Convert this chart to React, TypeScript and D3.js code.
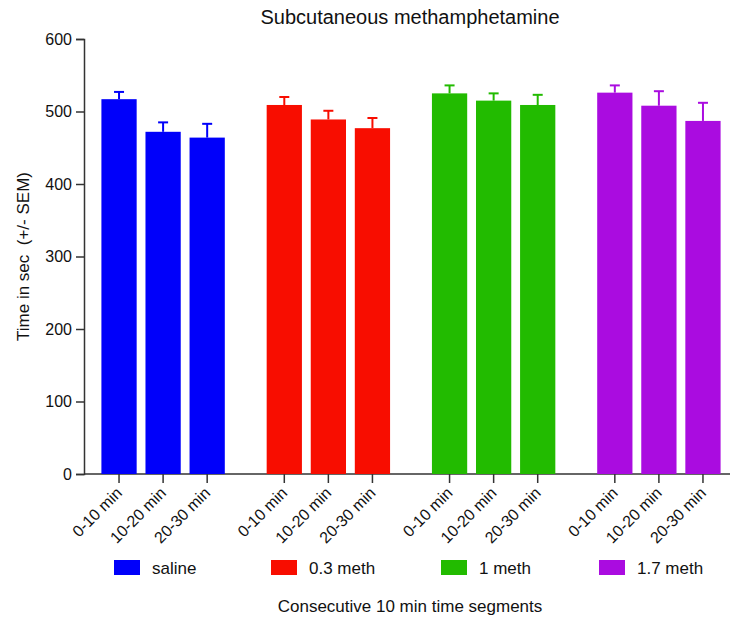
import React, { useRef, useEffect } from "react";
import * as d3 from "d3";

const groups = ["saline", "0.3 meth", "1 meth", "1.7 meth"];
const segments = ["0-10 min", "10-20 min", "20-30 min"];
const colors = ["#0000fa", "#f80d00", "#22bb00", "#aa0ce0"];

const means = [
    [517, 472, 464],
    [509, 489, 477],
    [525, 515, 509],
    [526, 508, 487],
];
const sems = [
    [10, 13, 19],
    [11, 12, 14],
    [11, 10, 14],
    [10, 20, 25],
];
const yTicks = [0, 100, 200, 300, 400, 500, 600];

// legend item left edges (layout)
const legendX = [114, 271, 441, 599];

const font = "'Liberation Sans', Arial, Helvetica, sans-serif";

const App = () => {
    const svgRef = useRef<SVGSVGElement>(null);

    useEffect(() => {
        if (!svgRef.current) return;
        const width = 730;
        const height = 620;
        const margin = { top: 39, left: 84, bottom: 146 };
        const y0 = height - margin.bottom;

        const svg = d3.select(svgRef.current);
        svg.selectAll("*").remove();
        svg.attr("width", width).attr("height", height);

        const yScale = d3.scaleLinear().domain([0, 600]).range([y0, margin.top]);

        const xGroup = d3
            .scaleBand()
            .domain(groups)
            .range([97, 725])
            .paddingInner(0.2)
            .paddingOuter(0);

        const xInner = d3
            .scaleBand()
            .domain(segments)
            .range([0, xGroup.bandwidth()])
            .paddingInner(0.2)
            .paddingOuter(0.1);

        // 標題
        svg.append("text")
            .attr("x", 410)
            .attr("y", 24)
            .attr("text-anchor", "middle")
            .style("font-family", font)
            .style("font-size", "20px")
            .style("fill", "#111")
            .text("Subcutaneous methamphetamine");

        // y axis
        const yAxis = svg.append("g")
            .attr("transform", `translate(${margin.left},0)`)
            .call(d3.axisLeft(yScale).tickValues(yTicks).tickSize(8).tickPadding(4));
        yAxis.select(".domain").attr("stroke", "#333").attr("stroke-width", 1.5);
        yAxis.selectAll(".tick line").attr("stroke", "#333").attr("stroke-width", 1.5);
        yAxis.selectAll("text")
            .style("font-family", font)
            .style("font-size", "16px")
            .style("fill", "#111");

        svg.append("text")
            .attr("transform", `translate(29,${(margin.top + y0) / 2}) rotate(-90)`)
            .attr("text-anchor", "middle")
            .style("font-family", font)
            .style("font-size", "17px")
            .style("white-space", "pre")
            .style("fill", "#111")
            .text("Time in sec  (+/- SEM)");

        // x axis line
        svg.append("line")
            .attr("x1", margin.left)
            .attr("x2", width)
            .attr("y1", y0)
            .attr("y2", y0)
            .attr("stroke", "#333")
            .attr("stroke-width", 1.5);

        groups.forEach((g, gi) => {
            const gx = xGroup(g)!;
            const grp = svg.append("g").attr("transform", `translate(${gx},0)`);
            segments.forEach((s, si) => {
                const x = xInner(s)!;
                const bw = xInner.bandwidth();
                const cx = x + bw / 2;
                const v = means[gi][si];
                const e = sems[gi][si];

                // error bar, upper half only
                grp.append("line")
                    .attr("x1", cx).attr("x2", cx)
                    .attr("y1", yScale(v)).attr("y2", yScale(v + e))
                    .attr("stroke", colors[gi]).attr("stroke-width", 2);
                grp.append("line")
                    .attr("x1", cx - 5).attr("x2", cx + 5)
                    .attr("y1", yScale(v + e)).attr("y2", yScale(v + e))
                    .attr("stroke", colors[gi]).attr("stroke-width", 2);

                grp.append("rect")
                    .attr("x", x)
                    .attr("y", yScale(v))
                    .attr("width", bw)
                    .attr("height", y0 - yScale(v))
                    .attr("fill", colors[gi]);

                // tick
                grp.append("line")
                    .attr("x1", cx).attr("x2", cx)
                    .attr("y1", y0).attr("y2", y0 + 9)
                    .attr("stroke", "#333").attr("stroke-width", 1.5);

                grp.append("text")
                    .attr("transform", `translate(${cx + 4},${y0 + 20}) rotate(-45)`)
                    .attr("text-anchor", "end")
                    .style("font-family", font)
                    .style("font-size", "16px")
                    .style("fill", "#111")
                    .text(s);
            });

            // legend
            const lx = legendX[gi];
            svg.append("rect")
                .attr("x", lx)
                .attr("y", 560)
                .attr("width", 26)
                .attr("height", 15)
                .attr("fill", colors[gi]);
            svg.append("text")
                .attr("x", lx + 38)
                .attr("y", 574)
                .style("font-family", font)
                .style("font-size", "17px")
                .style("fill", "#111")
                .text(g);
        });

        svg.append("text")
            .attr("x", 410)
            .attr("y", 612)
            .attr("text-anchor", "middle")
            .style("font-family", font)
            .style("font-size", "17px")
            .style("fill", "#111")
            .text("Consecutive 10 min time segments");
    }, []);

    return (
        <svg
            ref={svgRef}
            style={{ position: "absolute", left: 0, top: 0, background: "#fff" }}
        />
    );
};

export default App;
